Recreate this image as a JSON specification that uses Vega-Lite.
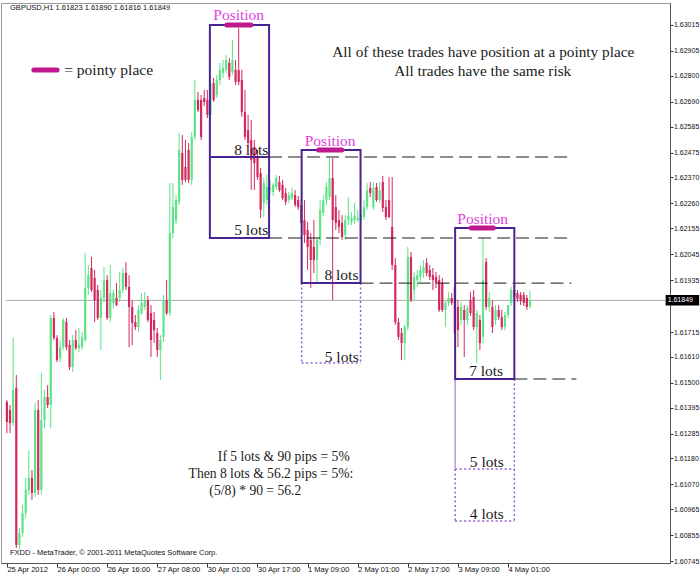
{
  "$schema": "https://vega.github.io/schema/vega-lite/v6.json",
  "width": 669,
  "height": 560,
  "autosize": {"type": "none"},
  "padding": {"left": 1, "top": 3, "right": 30, "bottom": 13},
  "background": "white",
  "config": {"font": "Liberation Sans", "view": {"stroke": "#999999"}},
  "datasets": {
    "candles": [
      {"i":0,"o":1.61419,"h":1.61427,"l":1.61287,"c":1.61334},
      {"i":1,"o":1.61385,"h":1.61406,"l":1.61287,"c":1.6133},
      {"i":2,"o":1.6133,"h":1.6169,"l":1.61317,"c":1.61469},
      {"i":3,"o":1.61478,"h":1.61533,"l":1.608,"c":1.60813},
      {"i":4,"o":1.60813,"h":1.60885,"l":1.60796,"c":1.60864},
      {"i":5,"o":1.60864,"h":1.60982,"l":1.60847,"c":1.60948},
      {"i":6,"o":1.60948,"h":1.61097,"l":1.60927,"c":1.61046},
      {"i":7,"o":1.61046,"h":1.61215,"l":1.61025,"c":1.61097},
      {"i":8,"o":1.61097,"h":1.61131,"l":1.61004,"c":1.61033},
      {"i":9,"o":1.61033,"h":1.61414,"l":1.61016,"c":1.61385},
      {"i":10,"o":1.61385,"h":1.61427,"l":1.61025,"c":1.61046},
      {"i":11,"o":1.61046,"h":1.61541,"l":1.61025,"c":1.61342},
      {"i":12,"o":1.61342,"h":1.61469,"l":1.61308,"c":1.6144},
      {"i":13,"o":1.6144,"h":1.6149,"l":1.61393,"c":1.61406},
      {"i":14,"o":1.61406,"h":1.61787,"l":1.61308,"c":1.61774},
      {"i":15,"o":1.61774,"h":1.618,"l":1.61681,"c":1.6169},
      {"i":16,"o":1.6169,"h":1.61702,"l":1.61588,"c":1.61596},
      {"i":17,"o":1.61605,"h":1.61681,"l":1.61588,"c":1.61651},
      {"i":18,"o":1.61651,"h":1.61774,"l":1.61639,"c":1.61766},
      {"i":19,"o":1.61757,"h":1.61774,"l":1.61639,"c":1.61651},
      {"i":20,"o":1.6166,"h":1.61681,"l":1.61554,"c":1.61567},
      {"i":21,"o":1.61567,"h":1.61702,"l":1.61546,"c":1.61681},
      {"i":22,"o":1.61681,"h":1.61723,"l":1.61639,"c":1.61647},
      {"i":23,"o":1.61647,"h":1.61732,"l":1.6163,"c":1.6166},
      {"i":24,"o":1.61651,"h":1.61715,"l":1.61639,"c":1.61694},
      {"i":25,"o":1.61681,"h":1.6205,"l":1.61673,"c":1.61901},
      {"i":26,"o":1.61901,"h":1.61999,"l":1.61872,"c":1.61956},
      {"i":27,"o":1.61986,"h":1.62033,"l":1.61884,"c":1.61893},
      {"i":28,"o":1.61944,"h":1.61978,"l":1.61757,"c":1.6185},
      {"i":29,"o":1.61893,"h":1.61914,"l":1.61766,"c":1.61774},
      {"i":30,"o":1.61774,"h":1.61893,"l":1.61639,"c":1.61859},
      {"i":31,"o":1.61859,"h":1.6199,"l":1.61842,"c":1.61935},
      {"i":32,"o":1.61935,"h":1.61956,"l":1.61766,"c":1.61774},
      {"i":33,"o":1.61774,"h":1.61999,"l":1.61757,"c":1.6188},
      {"i":34,"o":1.61838,"h":1.61893,"l":1.61817,"c":1.6188},
      {"i":35,"o":1.61859,"h":1.61922,"l":1.61825,"c":1.61829},
      {"i":36,"o":1.61859,"h":1.61969,"l":1.61842,"c":1.61893},
      {"i":37,"o":1.61893,"h":1.61986,"l":1.6188,"c":1.61965},
      {"i":38,"o":1.61965,"h":1.62011,"l":1.61893,"c":1.61906},
      {"i":39,"o":1.61906,"h":1.61956,"l":1.61651,"c":1.61821},
      {"i":40,"o":1.61821,"h":1.6185,"l":1.6166,"c":1.61753},
      {"i":41,"o":1.61757,"h":1.61787,"l":1.61723,"c":1.61736},
      {"i":42,"o":1.61736,"h":1.61829,"l":1.61715,"c":1.61808},
      {"i":43,"o":1.61795,"h":1.6188,"l":1.61787,"c":1.61838},
      {"i":44,"o":1.61821,"h":1.61884,"l":1.61808,"c":1.6185},
      {"i":45,"o":1.6185,"h":1.61867,"l":1.61757,"c":1.61766},
      {"i":46,"o":1.61795,"h":1.61829,"l":1.61609,"c":1.61681},
      {"i":47,"o":1.61766,"h":1.618,"l":1.61668,"c":1.61723},
      {"i":48,"o":1.61711,"h":1.61732,"l":1.61609,"c":1.61639},
      {"i":49,"o":1.61639,"h":1.61702,"l":1.61512,"c":1.61681},
      {"i":50,"o":1.61694,"h":1.61872,"l":1.61673,"c":1.6185},
      {"i":51,"o":1.6185,"h":1.61935,"l":1.61787,"c":1.61795},
      {"i":52,"o":1.61795,"h":1.62346,"l":1.61783,"c":1.62134},
      {"i":53,"o":1.62134,"h":1.62346,"l":1.62113,"c":1.62244},
      {"i":54,"o":1.62189,"h":1.62295,"l":1.62172,"c":1.62274},
      {"i":55,"o":1.62266,"h":1.62558,"l":1.62253,"c":1.62486},
      {"i":56,"o":1.62473,"h":1.62549,"l":1.62338,"c":1.62359},
      {"i":57,"o":1.62414,"h":1.62528,"l":1.6235,"c":1.62359},
      {"i":58,"o":1.62486,"h":1.62515,"l":1.62346,"c":1.62359},
      {"i":59,"o":1.62359,"h":1.62562,"l":1.62338,"c":1.62541},
      {"i":60,"o":1.62541,"h":1.62782,"l":1.62528,"c":1.62698},
      {"i":61,"o":1.62698,"h":1.62731,"l":1.62647,"c":1.62655},
      {"i":62,"o":1.62698,"h":1.62719,"l":1.62528,"c":1.62541},
      {"i":63,"o":1.62706,"h":1.6274,"l":1.62672,"c":1.62689},
      {"i":64,"o":1.62698,"h":1.6274,"l":1.62621,"c":1.62634},
      {"i":65,"o":1.62634,"h":1.62782,"l":1.62621,"c":1.62769},
      {"i":66,"o":1.62769,"h":1.62791,"l":1.62689,"c":1.62698},
      {"i":67,"o":1.62719,"h":1.62803,"l":1.62706,"c":1.62782},
      {"i":68,"o":1.62782,"h":1.62854,"l":1.62761,"c":1.62825},
      {"i":69,"o":1.62812,"h":1.62867,"l":1.62791,"c":1.62833},
      {"i":70,"o":1.62825,"h":1.62888,"l":1.62812,"c":1.62867},
      {"i":71,"o":1.62854,"h":1.62875,"l":1.62782,"c":1.62795},
      {"i":72,"o":1.62816,"h":1.62952,"l":1.62803,"c":1.62867},
      {"i":73,"o":1.62825,"h":1.62867,"l":1.62761,"c":1.62774},
      {"i":74,"o":1.62825,"h":1.63002,"l":1.62761,"c":1.62774},
      {"i":75,"o":1.62782,"h":1.62825,"l":1.62626,"c":1.62647},
      {"i":76,"o":1.62647,"h":1.6274,"l":1.62528,"c":1.62541},
      {"i":77,"o":1.6257,"h":1.62634,"l":1.62507,"c":1.62515},
      {"i":78,"o":1.62528,"h":1.62613,"l":1.62316,"c":1.62443},
      {"i":79,"o":1.62498,"h":1.62528,"l":1.62316,"c":1.62431},
      {"i":80,"o":1.62456,"h":1.62486,"l":1.62359,"c":1.62371},
      {"i":81,"o":1.62388,"h":1.6241,"l":1.62198,"c":1.62232},
      {"i":82,"o":1.62261,"h":1.62367,"l":1.62202,"c":1.62346},
      {"i":83,"o":1.62274,"h":1.6238,"l":1.62253,"c":1.62329},
      {"i":84,"o":1.62316,"h":1.62359,"l":1.62295,"c":1.62325},
      {"i":85,"o":1.62308,"h":1.62346,"l":1.62291,"c":1.62338},
      {"i":86,"o":1.62329,"h":1.6238,"l":1.62316,"c":1.62367},
      {"i":87,"o":1.6235,"h":1.62376,"l":1.62308,"c":1.62316},
      {"i":88,"o":1.62338,"h":1.62359,"l":1.62274,"c":1.62282},
      {"i":89,"o":1.62304,"h":1.62325,"l":1.62253,"c":1.62266},
      {"i":90,"o":1.62274,"h":1.62308,"l":1.62261,"c":1.62295},
      {"i":91,"o":1.62282,"h":1.62325,"l":1.62274,"c":1.62304},
      {"i":92,"o":1.62295,"h":1.62316,"l":1.62244,"c":1.62253},
      {"i":93,"o":1.62274,"h":1.62291,"l":1.62232,"c":1.62244},
      {"i":94,"o":1.62253,"h":1.62287,"l":1.62168,"c":1.62177},
      {"i":95,"o":1.62189,"h":1.62274,"l":1.62092,"c":1.62126},
      {"i":96,"o":1.62147,"h":1.62181,"l":1.61978,"c":1.62075},
      {"i":97,"o":1.62105,"h":1.62134,"l":1.61901,"c":1.6202},
      {"i":98,"o":1.62075,"h":1.62189,"l":1.61965,"c":1.6202},
      {"i":99,"o":1.6202,"h":1.62117,"l":1.61922,"c":1.62105},
      {"i":100,"o":1.62105,"h":1.62274,"l":1.62083,"c":1.62232},
      {"i":101,"o":1.62219,"h":1.62295,"l":1.62206,"c":1.62274},
      {"i":102,"o":1.62274,"h":1.6235,"l":1.62253,"c":1.62329},
      {"i":103,"o":1.62287,"h":1.62452,"l":1.62274,"c":1.62367},
      {"i":104,"o":1.62367,"h":1.62452,"l":1.6185,"c":1.62189},
      {"i":105,"o":1.62244,"h":1.62295,"l":1.62147,"c":1.62177},
      {"i":106,"o":1.62189,"h":1.62232,"l":1.62134,"c":1.6216},
      {"i":107,"o":1.62177,"h":1.6221,"l":1.62105,"c":1.62117},
      {"i":108,"o":1.62126,"h":1.6221,"l":1.62105,"c":1.62189},
      {"i":109,"o":1.62189,"h":1.62287,"l":1.62168,"c":1.62206},
      {"i":110,"o":1.62181,"h":1.62223,"l":1.62168,"c":1.62198},
      {"i":111,"o":1.62189,"h":1.62261,"l":1.62172,"c":1.62206},
      {"i":112,"o":1.62189,"h":1.62232,"l":1.62181,"c":1.62198},
      {"i":113,"o":1.62189,"h":1.62223,"l":1.62172,"c":1.6221},
      {"i":114,"o":1.62202,"h":1.62274,"l":1.62189,"c":1.62244},
      {"i":115,"o":1.62244,"h":1.62346,"l":1.62232,"c":1.62316},
      {"i":116,"o":1.62325,"h":1.6235,"l":1.62287,"c":1.62304},
      {"i":117,"o":1.62244,"h":1.6235,"l":1.62232,"c":1.62325},
      {"i":118,"o":1.62329,"h":1.62346,"l":1.62266,"c":1.62274},
      {"i":119,"o":1.62274,"h":1.6235,"l":1.62261,"c":1.62316},
      {"i":120,"o":1.6235,"h":1.62376,"l":1.62223,"c":1.6224},
      {"i":121,"o":1.62244,"h":1.62274,"l":1.62189,"c":1.62202},
      {"i":122,"o":1.62274,"h":1.62371,"l":1.62198,"c":1.62202},
      {"i":123,"o":1.6216,"h":1.62371,"l":1.61978,"c":1.61999},
      {"i":124,"o":1.61999,"h":1.62028,"l":1.61745,"c":1.61757},
      {"i":125,"o":1.61757,"h":1.61774,"l":1.61681,"c":1.61694},
      {"i":126,"o":1.61711,"h":1.61732,"l":1.61596,"c":1.61668},
      {"i":127,"o":1.61668,"h":1.61745,"l":1.61596,"c":1.61736},
      {"i":128,"o":1.61736,"h":1.62075,"l":1.61723,"c":1.62033},
      {"i":129,"o":1.62033,"h":1.62054,"l":1.61842,"c":1.6185},
      {"i":130,"o":1.61893,"h":1.61969,"l":1.6185,"c":1.61948},
      {"i":131,"o":1.61935,"h":1.61978,"l":1.61906,"c":1.61956},
      {"i":132,"o":1.61948,"h":1.61999,"l":1.61927,"c":1.61978},
      {"i":133,"o":1.61965,"h":1.6202,"l":1.61944,"c":1.6199},
      {"i":134,"o":1.62007,"h":1.62028,"l":1.61952,"c":1.61965},
      {"i":135,"o":1.61978,"h":1.61999,"l":1.61935,"c":1.61948},
      {"i":136,"o":1.61956,"h":1.61986,"l":1.61893,"c":1.61935},
      {"i":137,"o":1.61948,"h":1.61969,"l":1.61901,"c":1.61922},
      {"i":138,"o":1.61935,"h":1.61956,"l":1.618,"c":1.61808},
      {"i":139,"o":1.61922,"h":1.61944,"l":1.618,"c":1.61808},
      {"i":140,"o":1.61808,"h":1.6185,"l":1.61736,"c":1.61838},
      {"i":141,"o":1.61838,"h":1.61884,"l":1.61825,"c":1.61859},
      {"i":142,"o":1.61859,"h":1.6188,"l":1.61829,"c":1.61838},
      {"i":143,"o":1.61906,"h":1.61927,"l":1.61702,"c":1.61711},
      {"i":144,"o":1.61821,"h":1.6185,"l":1.61651,"c":1.61723},
      {"i":145,"o":1.61766,"h":1.61842,"l":1.61745,"c":1.61821},
      {"i":146,"o":1.61808,"h":1.61829,"l":1.61609,"c":1.61766},
      {"i":147,"o":1.61766,"h":1.61829,"l":1.61745,"c":1.61817},
      {"i":148,"o":1.6185,"h":1.61884,"l":1.61783,"c":1.61795},
      {"i":149,"o":1.61863,"h":1.61893,"l":1.61723,"c":1.61736},
      {"i":150,"o":1.61736,"h":1.61808,"l":1.61584,"c":1.61795},
      {"i":151,"o":1.61766,"h":1.61787,"l":1.61639,"c":1.61668},
      {"i":152,"o":1.61694,"h":1.62113,"l":1.61668,"c":1.61935},
      {"i":153,"o":1.62011,"h":1.62028,"l":1.61808,"c":1.61821},
      {"i":154,"o":1.61821,"h":1.61884,"l":1.618,"c":1.61859},
      {"i":155,"o":1.61821,"h":1.6185,"l":1.61711,"c":1.61736},
      {"i":156,"o":1.61766,"h":1.61829,"l":1.61745,"c":1.61808},
      {"i":157,"o":1.61808,"h":1.61829,"l":1.61766,"c":1.61778},
      {"i":158,"o":1.61778,"h":1.61808,"l":1.61723,"c":1.61736},
      {"i":159,"o":1.61736,"h":1.618,"l":1.61723,"c":1.61787},
      {"i":160,"o":1.61787,"h":1.61829,"l":1.61774,"c":1.61829},
      {"i":161,"o":1.61838,"h":1.61906,"l":1.61825,"c":1.61893},
      {"i":162,"o":1.61893,"h":1.61914,"l":1.6185,"c":1.61863},
      {"i":163,"o":1.6188,"h":1.61893,"l":1.61842,"c":1.61855},
      {"i":164,"o":1.61872,"h":1.61884,"l":1.61829,"c":1.61846},
      {"i":165,"o":1.61872,"h":1.61884,"l":1.61825,"c":1.61838},
      {"i":166,"o":1.61859,"h":1.61872,"l":1.61808,"c":1.61821},
      {"i":167,"o":1.61823,"h":1.6189,"l":1.61816,"c":1.61849}
    ],
    "bid": [{"x1": -0.29, "x2": 210.1, "p": 1.61849}],
    "tag": [{"x1": 210.3, "x2": 221, "y1": 1.61872, "y2": 1.61827, "t": "1.61849", "y": 1.61849}],
    "boxes": [
      {"x1": 64.8, "x2": 83.7, "y1": 1.63015, "y2": 1.62113},
      {"x1": 94.1, "x2": 112.9, "y1": 1.62486, "y2": 1.61922},
      {"x1": 143.1, "x2": 162.0, "y1": 1.62155, "y2": 1.61516}
    ],
    "inner": [{"x1": 64.8, "x2": 83.7, "y": 1.62456}],
    "dashed": [
      {"x1": 83.7, "x2": 180.2, "y": 1.62456},
      {"x1": 83.7, "x2": 180.2, "y": 1.62113},
      {"x1": 112.9, "x2": 180.2, "y": 1.61922},
      {"x1": 162.0, "x2": 181.8, "y": 1.61516}
    ],
    "dotted": [
      {"x1": 94.1, "x2": 94.1, "y1": 1.61922, "y2": 1.61584},
      {"x1": 112.9, "x2": 112.9, "y1": 1.61922, "y2": 1.61584},
      {"x1": 94.1, "x2": 112.9, "y1": 1.61584, "y2": 1.61584},
      {"x1": 143.1, "x2": 143.1, "y1": 1.61135, "y2": 1.60915},
      {"x1": 162.0, "x2": 162.0, "y1": 1.61516, "y2": 1.60915},
      {"x1": 143.1, "x2": 162.0, "y1": 1.61135, "y2": 1.61135},
      {"x1": 143.1, "x2": 162.0, "y1": 1.60915, "y2": 1.60915}
    ],
    "lavender": [{"x1": 143.1, "x2": 143.1, "y1": 1.61516, "y2": 1.61135}],
    "pointy": [
      {"x1": 70.2, "x2": 77.9, "y": 1.63015},
      {"x1": 99.5, "x2": 106.9, "y": 1.62486},
      {"x1": 148.2, "x2": 155.3, "y": 1.62155},
      {"x1": 8.6, "x2": 16.0, "y": 1.62824}
    ],
    "lots": [
      {"x": 78.0, "y": 1.62465, "t": "8 lots"},
      {"x": 78.0, "y": 1.62126, "t": "5 lots"},
      {"x": 106.8, "y": 1.61935, "t": "8 lots"},
      {"x": 106.9, "y": 1.61588, "t": "5 lots"},
      {"x": 153.0, "y": 1.61529, "t": "7 lots"},
      {"x": 153.2, "y": 1.61143, "t": "5 lots"},
      {"x": 153.2, "y": 1.60923, "t": "4 lots"}
    ],
    "calc": [
      {"x": 88.4, "y": 1.61169, "t": "If 5 lots & 90 pips = 5%"},
      {"x": 84.3, "y": 1.61097, "t": "Then 8 lots & 56.2 pips = 5%:"},
      {"x": 79.3, "y": 1.61025, "t": "(5/8) * 90 = 56.2"}
    ],
    "headline": [
      {"x": 152.1, "y": 1.6288, "t": "All of these trades have position at a pointy place"},
      {"x": 151.9, "y": 1.62799, "t": "All trades have the same risk"}
    ],
    "legendtext": [{"x": 18.3, "y": 1.62803, "t": "= pointy place"}],
    "position": [
      {"x": 74.0, "y": 1.63036, "t": "Position"},
      {"x": 103.2, "y": 1.62503, "t": "Position"},
      {"x": 151.9, "y": 1.62172, "t": "Position"}
    ],
    "small": [
      {"x": 1.0, "y": 1.63087, "t": "GBPUSD,H1  1.61823 1.61890 1.61816 1.61849"},
      {"x": 1.0, "y": 1.60779, "t": "FXDD - MetaTrader, © 2001-2011 MetaQuotes Software Corp."}
    ]
  },
  "encoding": {
    "x": {
      "type": "quantitative",
      "scale": {"domain": [-0.29, 210.1], "nice": false, "zero": false},
      "axis": {
        "orient": "bottom", "title": null, "grid": false,
        "values": [0, 16, 32, 48, 64, 80, 96, 112, 128, 144, 160],
        "labelExpr": "['25 Apr 2012','26 Apr 00:00','26 Apr 16:00','27 Apr 08:00','30 Apr 01:00','30 Apr 17:00','1 May 09:00','2 May 01:00','2 May 17:00','3 May 09:00','4 May 01:00'][round(datum.value / 16)]",
        "labelAlign": "left", "labelBaseline": "top", "labelFontSize": 7.5,
        "labelColor": "#111111", "labelPadding": -2, "tickSize": 4,
        "tickColor": "#333333", "domainColor": "#555555",
        "labelOverlap": false, "labelFlush": false
      }
    },
    "y": {
      "type": "quantitative",
      "scale": {"domain": [1.60737, 1.63108], "nice": false, "zero": false},
      "axis": {
        "orient": "right", "title": null, "grid": false,
        "values": [1.63015, 1.62905, 1.628, 1.6269, 1.62585, 1.62475, 1.6237, 1.6226, 1.62155, 1.62045, 1.61935, 1.61715, 1.6161, 1.615, 1.61395, 1.61285, 1.6118, 1.6107, 1.60965, 1.60855, 1.60745],
        "format": ".5f", "labelFontSize": 7, "labelAlign": "left", "labelBaseline": "middle",
        "labelColor": "#111111", "tickSize": 3, "labelPadding": 0.5,
        "tickColor": "#333333", "domainColor": "#555555",
        "labelOverlap": false, "labelFlush": false
      }
    }
  },
  "layer": [
    {
      "data": {"name": "bid"},
      "mark": {"type": "rule", "color": "#ababab", "strokeWidth": 1},
      "encoding": {"x": {"field": "x1"}, "x2": {"field": "x2"}, "y": {"field": "p"}}
    },
    {
      "data": {"name": "candles"},
      "mark": {"type": "rule", "strokeWidth": 1},
      "encoding": {
        "x": {"field": "i"},
        "y": {"field": "l"},
        "y2": {"field": "h"},
        "color": {"condition": {"test": "datum.c >= datum.o", "value": "#5ce486"}, "value": "#d4295f"}
      }
    },
    {
      "data": {"name": "candles"},
      "mark": {"type": "bar", "width": 2.2},
      "encoding": {
        "x": {"field": "i"},
        "y": {"field": "o"},
        "y2": {"field": "c"},
        "color": {"condition": {"test": "datum.c >= datum.o", "value": "#5ce486"}, "value": "#d4295f"}
      }
    },
    {
      "data": {"name": "tag"},
      "mark": {"type": "rect", "color": "#000000"},
      "encoding": {"x": {"field": "x1"}, "x2": {"field": "x2"}, "y": {"field": "y1"}, "y2": {"field": "y2"}}
    },
    {
      "data": {"name": "tag"},
      "mark": {"type": "text", "align": "left", "baseline": "middle", "fontSize": 7, "color": "#ffffff", "dx": 2},
      "encoding": {"x": {"field": "x1"}, "y": {"field": "y"}, "text": {"field": "t", "type": "nominal"}}
    },
    {
      "data": {"name": "dashed"},
      "mark": {"type": "rule", "color": "#1a1a1a", "strokeWidth": 1, "strokeDash": [13, 6]},
      "encoding": {"x": {"field": "x1"}, "x2": {"field": "x2"}, "y": {"field": "y"}}
    },
    {
      "data": {"name": "dotted"},
      "mark": {"type": "rule", "color": "#9360cc", "strokeWidth": 1.5, "strokeDash": [2, 2.5]},
      "encoding": {"x": {"field": "x1"}, "x2": {"field": "x2"}, "y": {"field": "y1"}, "y2": {"field": "y2"}}
    },
    {
      "data": {"name": "lavender"},
      "mark": {"type": "rule", "color": "#b994e8", "strokeWidth": 1.5},
      "encoding": {"x": {"field": "x1"}, "x2": {"field": "x2"}, "y": {"field": "y1"}, "y2": {"field": "y2"}}
    },
    {
      "data": {"name": "boxes"},
      "mark": {"type": "rect", "fill": "transparent", "stroke": "#4a2392", "strokeWidth": 2},
      "encoding": {"x": {"field": "x1"}, "x2": {"field": "x2"}, "y": {"field": "y1"}, "y2": {"field": "y2"}}
    },
    {
      "data": {"name": "inner"},
      "mark": {"type": "rule", "color": "#4a2392", "strokeWidth": 2},
      "encoding": {"x": {"field": "x1"}, "x2": {"field": "x2"}, "y": {"field": "y"}}
    },
    {
      "data": {"name": "pointy"},
      "mark": {"type": "rule", "color": "#c0198d", "strokeWidth": 5, "strokeCap": "round"},
      "encoding": {"x": {"field": "x1"}, "x2": {"field": "x2"}, "y": {"field": "y"}}
    },
    {
      "data": {"name": "lots"},
      "mark": {"type": "text", "font": "Liberation Serif", "fontSize": 15.5, "color": "#1a1a1a", "align": "center", "baseline": "alphabetic"},
      "encoding": {"x": {"field": "x"}, "y": {"field": "y"}, "text": {"field": "t", "type": "nominal"}}
    },
    {
      "data": {"name": "calc"},
      "mark": {"type": "text", "font": "Liberation Serif", "fontSize": 13.6, "color": "#1a1a1a", "align": "center", "baseline": "alphabetic"},
      "encoding": {"x": {"field": "x"}, "y": {"field": "y"}, "text": {"field": "t", "type": "nominal"}}
    },
    {
      "data": {"name": "headline"},
      "mark": {"type": "text", "font": "Liberation Serif", "fontSize": 15.3, "color": "#1a1a1a", "align": "center", "baseline": "alphabetic"},
      "encoding": {"x": {"field": "x"}, "y": {"field": "y"}, "text": {"field": "t", "type": "nominal"}}
    },
    {
      "data": {"name": "legendtext"},
      "mark": {"type": "text", "font": "Liberation Serif", "fontSize": 15.5, "color": "#1a1a1a", "align": "left", "baseline": "alphabetic"},
      "encoding": {"x": {"field": "x"}, "y": {"field": "y"}, "text": {"field": "t", "type": "nominal"}}
    },
    {
      "data": {"name": "position"},
      "mark": {"type": "text", "font": "Liberation Serif", "fontSize": 15.5, "color": "#e03fe0", "align": "center", "baseline": "alphabetic"},
      "encoding": {"x": {"field": "x"}, "y": {"field": "y"}, "text": {"field": "t", "type": "nominal"}}
    },
    {
      "data": {"name": "small"},
      "mark": {"type": "text", "fontSize": 7.5, "color": "#111111", "align": "left", "baseline": "middle"},
      "encoding": {"x": {"field": "x"}, "y": {"field": "y"}, "text": {"field": "t", "type": "nominal"}}
    }
  ]
}
